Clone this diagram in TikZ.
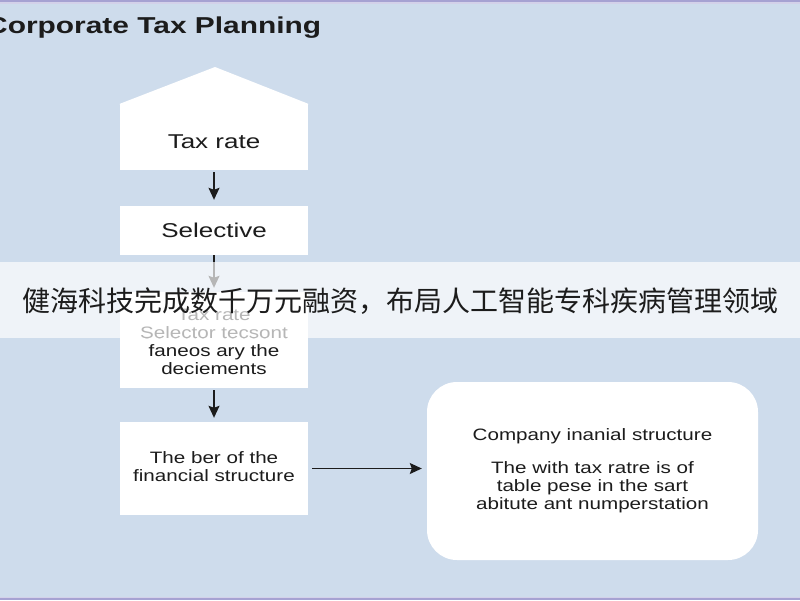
\documentclass[tikz,border=0pt]{standalone}
\usepackage{fontspec}
\setmainfont{Liberation Sans}
\newfontfamily\cjkfont{Noto Sans CJK SC}
\usetikzlibrary{arrows.meta}
\definecolor{bgblue}{HTML}{CEDCEC}
\definecolor{inkc}{HTML}{1C1C1C}
\definecolor{edgec}{HTML}{A6A2D2}
\newcommand{\wide}[2]{\scalebox{#1}[1]{#2}}
\begin{document}
\begin{tikzpicture}[x=1pt,y=-1pt,
  boxw/.style={fill=white, draw=none, inner sep=0pt, align=center, text=inkc},
  lbl/.style={inner sep=0pt, align=center, text=inkc},
  arr/.style={draw=inkc, line width=1.5pt, -{Stealth[length=12pt,width=11pt,inset=2pt]}},
  smalltxt/.style={font=\fontsize{16.5}{18}\selectfont},
  bigtxt/.style={font=\fontsize{20}{23}\selectfont}]
\useasboundingbox (0,0) rectangle (800,600);
\fill[bgblue] (0,0) rectangle (800,600);
\fill[edgec] (0,0) rectangle (800,2);
\fill[edgec!50!white] (0,2) rectangle (800,3.5);
\fill[edgec] (0,598) rectangle (800,600);
\fill[edgec!50!white] (0,596.5) rectangle (800,598);

\node[anchor=base west, inner sep=0pt, font=\fontsize{23}{27}\selectfont\bfseries, text=inkc] (title) at (-14,33) {\wide{1.3}{Corporate Tax Planning}};

\node[boxw, minimum width=188, minimum height=66] (b1) at (214,137) {};
\fill[white] ([yshift=-1pt]b1.north west) -- (b1.north west) -- (215,67) -- (b1.north east) -- ([yshift=-1pt]b1.north east) -- cycle;
\node[lbl, bigtxt] (b1t) at ([yshift=-5pt]b1.center) {\wide{1.3}{Tax rate}};

\node[boxw, minimum width=188, minimum height=49, bigtxt] (b2) at (214,230.5) {\wide{1.3}{Selective}};

\node[boxw, minimum width=188, minimum height=96] (b3) at (214,340) {};
\node[lbl, smalltxt] (b3t) at ([yshift=-3.5pt]b3.center) {\wide{1.25}{\begin{tabular}{@{}c@{}}Tax rate\\Selector tecsont\\faneos ary the\\deciements\end{tabular}}};

\node[boxw, minimum width=188, minimum height=93, smalltxt] (b4) at (214,468.5) {\wide{1.25}{\begin{tabular}{@{}c@{}}The ber of the\\financial structure\end{tabular}}};

\node[boxw, rounded corners=30pt, minimum width=331, minimum height=178, smalltxt] (b5) at (592.5,471) {\wide{1.25}{\begin{tabular}{@{}c@{}}Company inanial structure\\[15pt]The with tax ratre is of\\table pese in the sart\\abitute ant numperstation\end{tabular}}};

\draw[arr] ([yshift=-2pt]b1.south) -- ([yshift=6pt]b2.north);
\draw[arr] (b2.south) -- ([yshift=4pt]b3.north);
\draw[arr] ([yshift=-2pt]b3.south) -- ([yshift=4pt]b4.north);
\draw[arr, line width=1.2pt] ([xshift=4pt]b4.east) -- ([xshift=-5pt]b4.east -| b5.west);

\fill[white, opacity=0.68] (0,262) rectangle (800,338);
\node[font=\cjkfont\fontsize{28}{32}\selectfont, text=inkc, inner sep=0pt] (banner) at (400,301) {健海科技完成数千万元融资，布局人工智能专科疾病管理领域};
\end{tikzpicture}
\end{document}
